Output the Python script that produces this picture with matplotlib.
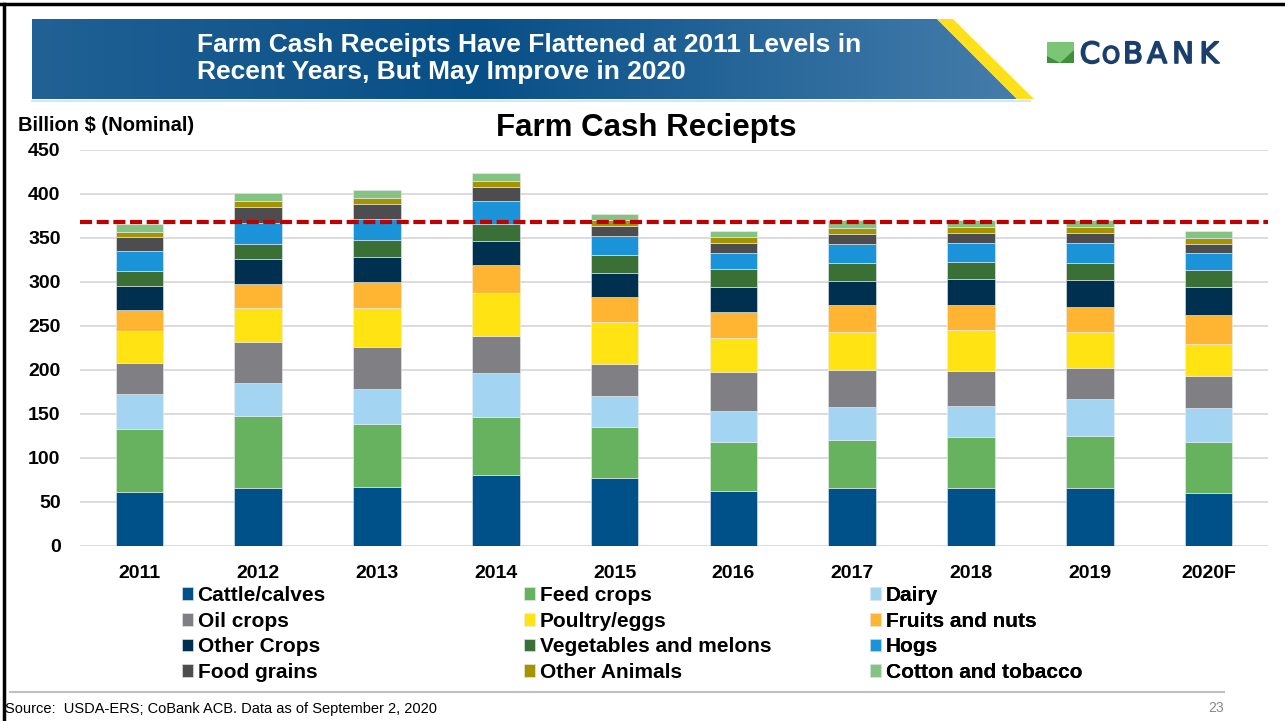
import numpy as np
import matplotlib
matplotlib.use('Agg')
import matplotlib.pyplot as plt
import matplotlib.patheffects as pe
from matplotlib.patches import Polygon, Rectangle

plt.rcParams['font.family'] = ['Liberation Sans', 'DejaVu Sans']

# values in billion $ (segment heights, bottom to top)
years = ['2011', '2012', '2013', '2014', '2015', '2016', '2017', '2018', '2019', '2020F']
cattle = [61.7, 65.5, 67.4, 80.6, 77.6, 62.8, 66.2, 66.2, 65.5, 60.5]
feed_crops = [71.5, 82.4, 70.8, 65.9, 57.2, 55.6, 54.5, 57.9, 59.7, 57.2]
dairy = [39.7, 37.2, 40.4, 49.6, 35.9, 35.2, 37.5, 35.2, 41.3, 39.3]
oil_crops = [35.6, 46.5, 47.0, 42.7, 35.6, 43.9, 41.3, 39.8, 35.9, 36.4]
poultry = [35.6, 38.6, 45.0, 48.4, 48.4, 39.0, 43.5, 46.1, 40.6, 36.3]
fruits_nuts = [23.8, 28.0, 29.9, 32.2, 28.4, 29.5, 30.3, 29.2, 28.7, 32.9]
other_crops = [27.7, 28.0, 28.0, 27.2, 27.2, 28.8, 28.3, 29.5, 31.1, 31.8]
vegetables = [17.0, 17.4, 19.3, 19.0, 20.9, 19.7, 20.5, 18.9, 18.8, 19.7]
hogs = [22.3, 23.5, 24.2, 26.5, 20.8, 18.9, 21.5, 21.2, 22.4, 18.5]
food_grains = [16.3, 18.2, 17.1, 15.8, 11.7, 11.0, 11.0, 11.7, 11.7, 11.0]
other_animals = [6.0, 6.4, 6.4, 6.9, 6.4, 6.8, 7.2, 6.8, 6.8, 6.9]
cotton_tobacco = [8.8, 9.8, 8.7, 9.1, 7.6, 7.2, 8.3, 8.4, 7.6, 7.5]
level_2011 = 368

labels = ['Cattle/calves', 'Feed crops', 'Dairy', 'Oil crops', 'Poultry/eggs',
          'Fruits and nuts', 'Other Crops', 'Vegetables and melons', 'Hogs',
          'Food grains', 'Other Animals', 'Cotton and tobacco']
series = [cattle, feed_crops, dairy, oil_crops, poultry, fruits_nuts,
          other_crops, vegetables, hogs, food_grains, other_animals, cotton_tobacco]
colors = ['#00508A', '#66B25F', '#A3D5F3', '#807F83', '#FFE312', '#FFB531',
          '#003050', '#3A6F36', '#1A93D8', '#4D4D4F', '#A69300', '#86C281']

fig = plt.figure(figsize=(12.85, 7.21), dpi=100)

# background layer in pixel coordinates
bg = fig.add_axes([0, 0, 1, 1], zorder=0)
bg.set_xlim(0, 1285)
bg.set_ylim(721, 0)
bg.axis('off')

# slide border
bg.plot([0, 1285], [4, 4], color='black', lw=2.5)
bg.plot([3.5, 3.5], [4, 721], color='black', lw=2.5)

# banner with gradient
stops = np.array([[0.13, 0.38, 0.58], [0.03, 0.31, 0.53], [0.27, 0.49, 0.67]])
t = np.linspace(0, 1, 400)
grad = np.stack([np.interp(t, [0, 0.45, 1], stops[:, k]) for k in range(3)], axis=-1)
grad = np.repeat(grad[None, :, :], 2, axis=0)
banner = Polygon([(32, 19), (937, 19), (1017, 99), (32, 99)], closed=True,
                 facecolor='none', edgecolor='none')
bg.add_patch(banner)
im = bg.imshow(grad, extent=(32, 1017, 99, 19), aspect='auto', zorder=1)
im.set_clip_path(banner)
bg.add_patch(Polygon([(937, 19), (953, 19), (1034, 99), (1017, 99)], closed=True,
                     facecolor='#FFE01B', edgecolor='none', zorder=2))
bg.plot([32, 1030], [101, 101], color='#D3E6F2', lw=1.5)
bg.set_xlim(0, 1285)
bg.set_ylim(721, 0)

bg.text(197, 45, 'Farm Cash Receipts Have Flattened at 2011 Levels in', color='white',
        fontsize=19, fontweight='bold', va='center', zorder=3)
bg.text(197, 72, 'Recent Years, But May Improve in 2020', color='white',
        fontsize=19, fontweight='bold', va='center', zorder=3)

# CoBank logo
bg.add_patch(Rectangle((1047, 42), 27, 21, facecolor='#3E8E3A', edgecolor='none', zorder=3))
bg.add_patch(Polygon([(1047, 42), (1074, 42), (1074, 50), (1060, 63), (1047, 56)],
                     closed=True, facecolor='#7CC576', edgecolor='none', zorder=3))
logo_letters = [('C', 1090, 21), ('O', 1111, 16.5), ('B', 1133, 21), ('A', 1157, 21),
                ('N', 1183, 21), ('K', 1209, 21)]
for ch, lx, fs in logo_letters:
    bg.text(lx, 63, ch, color='#1B3F6D', fontsize=fs, ha='center', va='baseline',
            family='DejaVu Sans', zorder=3,
            path_effects=[pe.withStroke(linewidth=1.2, foreground='#1B3F6D')])

bg.text(646, 136, 'Farm Cash Reciepts', fontsize=22.5, fontweight='bold',
        ha='center', va='baseline')
bg.text(18, 131, 'Billion $ (Nominal)', fontsize=14.5, fontweight='bold', va='baseline')

# footer
bg.plot([10, 1224], [692, 692], color='#BFBFBF', lw=1.5)
bg.text(5, 713, 'Source:  USDA-ERS; CoBank ACB. Data as of September 2, 2020',
        fontsize=10.5, va='baseline')
bg.text(1224, 712, '23', fontsize=10, color='#898989', ha='right', va='baseline')

# chart
ax = fig.add_axes([80 / 1285, 1 - 546 / 721, 1188 / 1285, 396 / 721], zorder=1)
ax.patch.set_alpha(0)
x = np.arange(len(years))
bottom = np.zeros(len(years))
handles = []
for name, vals, col in zip(labels, series, colors):
    bars = ax.bar(x, vals, width=0.4, bottom=bottom, color=col, label=name,
                  edgecolor='#E8EEF2', linewidth=0.4, zorder=2)
    handles.append(bars)
    bottom += np.array(vals)

ax.axhline(level_2011, color='#C00000', lw=3, dashes=(2.9, 1.1), zorder=3)

ax.set_xlim(-0.5, len(years) - 0.5)
ax.set_ylim(0, 450)
ax.set_yticks(np.arange(0, 451, 50))
ax.set_xticks(x)
ax.set_xticklabels(years)
ax.tick_params(axis='both', length=0, labelsize=14)
ax.tick_params(axis='y', pad=14)
ax.tick_params(axis='x', pad=14)
for lab in ax.get_xticklabels() + ax.get_yticklabels():
    lab.set_fontweight('bold')
ax.grid(axis='y', color='#D9D9D9', lw=1.3, zorder=0)
for s in ax.spines.values():
    s.set_visible(False)

# legend: three columns laid out row-wise
col_x = [182, 524, 870]
for c in range(3):
    hs = [handles[c + 3 * r] for r in range(4)]
    ls = [labels[c + 3 * r] for r in range(4)]
    leg = bg.legend(hs, ls, loc='upper left', bbox_to_anchor=(col_x[c], 586),
                    bbox_transform=bg.transData, frameon=False,
                    prop={'weight': 'bold', 'size': 15}, handlelength=0.55,
                    handleheight=0.55, handletextpad=0.2, labelspacing=0.32,
                    borderpad=0, borderaxespad=0)
    bg.add_artist(leg)

fig.savefig('out.png', dpi=100)
